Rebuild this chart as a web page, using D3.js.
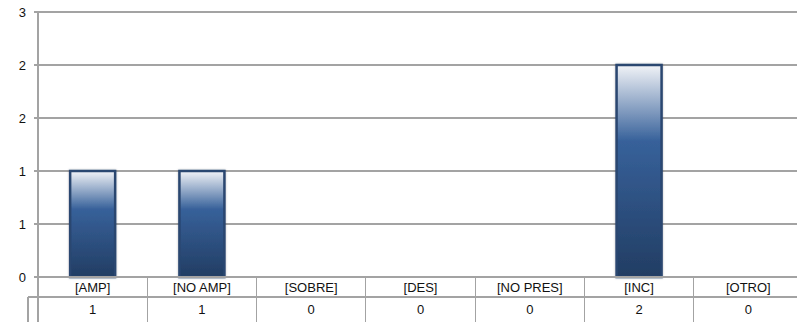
<!DOCTYPE html>
<html>
<head>
<meta charset="utf-8">
<script src="https://cdn.jsdelivr.net/npm/d3@7"></script>
<style>
  body { margin: 0; background: #fff; }
  text { font-family: "Liberation Sans", Arial, sans-serif; font-size: 13px; fill: #111; }
</style>
</head>
<body>
<div class="chart"></div>
<script>
// chart data
var categories = ["[AMP]", "[NO AMP]", "[SOBRE]", "[DES]", "[NO PRES]", "[INC]", "[OTRO]"];
var values = [1, 1, 0, 0, 0, 2, 0];
var yTicks = [0, 0.5, 1, 1.5, 2, 2.5];

var svgWidth = 797;
var svgHeight = 322;

var plotLeft = 38;
var plotRight = 803;   // last column runs off the edge like the original
var plotTop = 12;
var plotBottom = 277;
var rowH = 20;

var data = categories.map((c, i) => ({ cat: c, value: values[i] }));

var svg = d3.select(".chart")
  .append("svg")
  .attr("width", svgWidth)
  .attr("height", svgHeight);

var defs = svg.append("defs");

// bar gradient, light on top to dark blue at the base
var grad = defs.append("linearGradient")
  .attr("id", "barGrad")
  .attr("x1", 0).attr("y1", 0)
  .attr("x2", 0).attr("y2", 1);
grad.append("stop").attr("offset", "0%").attr("stop-color", "#f1f3f7");
grad.append("stop").attr("offset", "36%").attr("stop-color", "#37619a");
grad.append("stop").attr("offset", "100%").attr("stop-color", "#223d63");

var shadow = defs.append("filter")
  .attr("id", "shadow")
  .attr("x", "-20%").attr("y", "-10%")
  .attr("width", "140%").attr("height", "120%");
shadow.append("feDropShadow")
  .attr("dx", 0).attr("dy", 0)
  .attr("stdDeviation", 1.2)
  .attr("flood-color", "#000")
  .attr("flood-opacity", 0.25);

var xScale = d3.scaleBand()
  .domain(categories)
  .range([plotLeft, plotRight]);

var yScale = d3.scaleLinear()
  .domain([0, 2.5])
  .range([plotBottom, plotTop]);

// gridlines
svg.append("g")
  .selectAll("line")
  .data(yTicks)
  .enter().append("line")
  .attr("x1", plotLeft - 4)
  .attr("x2", plotRight)
  .attr("y1", d => yScale(d))
  .attr("y2", d => yScale(d))
  .attr("stroke", "#a3a3a3")
  .attr("stroke-width", 1.2)
  .attr("shape-rendering", "crispEdges");

// y axis, Excel rounds the half steps
var leftAxis = d3.axisLeft(yScale)
  .tickValues(yTicks)
  .tickSize(0)
  .tickPadding(12)
  .tickFormat(d => Math.round(d));

var yAxis = svg.append("g")
  .attr("transform", `translate(${plotLeft}, 0)`)
  .call(leftAxis);
yAxis.select(".domain").remove();
yAxis.selectAll("text").style("font-size", "13px").attr("fill", "#111");

// bars
var barW = 45;
svg.append("g")
  .selectAll("rect")
  .data(data.filter(d => d.value > 0))
  .enter().append("rect")
  .attr("x", d => xScale(d.cat) + xScale.bandwidth() / 2 - barW / 2)
  .attr("y", d => yScale(d.value))
  .attr("width", barW)
  .attr("height", d => plotBottom - yScale(d.value))
  .attr("fill", "url(#barGrad)")
  .attr("stroke", "#2a4670")
  .attr("stroke-width", 2.5)
  .attr("filter", "url(#shadow)");

// data table under the axis
var table = svg.append("g");

// horizontal rules
table.append("line")
  .attr("x1", plotLeft).attr("x2", plotRight)
  .attr("y1", plotBottom).attr("y2", plotBottom)
  .attr("stroke", "#a3a3a3").attr("stroke-width", 1.2)
  .attr("shape-rendering", "crispEdges");
table.append("line")
  .attr("x1", 28).attr("x2", plotRight)
  .attr("y1", plotBottom + rowH).attr("y2", plotBottom + rowH)
  .attr("stroke", "#a3a3a3").attr("stroke-width", 1.2)
  .attr("shape-rendering", "crispEdges");

// vertical rules between columns
var edges = categories.map(c => xScale(c)).concat([plotRight]);
table.selectAll("line.col")
  .data(edges)
  .enter().append("line")
  .attr("class", "col")
  .attr("x1", d => d).attr("x2", d => d)
  .attr("y1", plotBottom).attr("y2", svgHeight)
  .attr("stroke", "#a3a3a3").attr("stroke-width", 1.2)
  .attr("shape-rendering", "crispEdges");

// legend key cell on the value row
table.append("line")
  .attr("x1", 28).attr("x2", 28)
  .attr("y1", plotBottom + rowH).attr("y2", svgHeight)
  .attr("stroke", "#a3a3a3").attr("stroke-width", 1.2)
  .attr("shape-rendering", "crispEdges");

// y axis line runs through the table
svg.append("line")
  .attr("x1", plotLeft).attr("x2", plotLeft)
  .attr("y1", plotTop).attr("y2", svgHeight)
  .attr("stroke", "#a3a3a3").attr("stroke-width", 1.2)
  .attr("shape-rendering", "crispEdges");

table.selectAll("text.cat")
  .data(data)
  .enter().append("text")
  .attr("class", "cat")
  .attr("x", d => xScale(d.cat) + xScale.bandwidth() / 2)
  .attr("y", plotBottom + rowH / 2)
  .attr("dy", "0.36em")
  .attr("text-anchor", "middle")
  .text(d => d.cat);

table.selectAll("text.val")
  .data(data)
  .enter().append("text")
  .attr("class", "val")
  .attr("x", d => xScale(d.cat) + xScale.bandwidth() / 2)
  .attr("y", plotBottom + rowH + 12)
  .attr("dy", "0.36em")
  .attr("text-anchor", "middle")
  .text(d => d.value);
</script>
</body>
</html>
